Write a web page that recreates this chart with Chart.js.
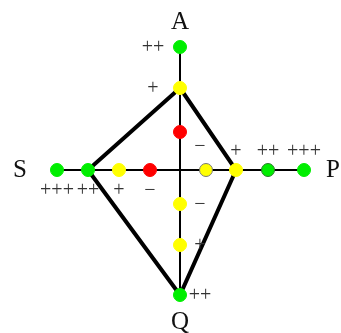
<!DOCTYPE html>
<html>
<head>
<meta charset="utf-8">
<script src="https://cdn.jsdelivr.net/npm/chart.js@4"></script>
<style>
  body { margin: 0; background: #fff; }
  #wrap { width: 341px; height: 333px; }
</style>
</head>
<body>
<div id="wrap"><canvas id="chart"></canvas></div>
<script>
// distance of each mark from the centre, along its arm
const aDist = [38, 82, 123];
const aGrades = ['', '+', '++'];
const aColors = ['red', 'yellow', 'green'];

const pDist = [26, 56, 88, 124];
const pGrades = ['\u2212', '+', '++', '+++'];
const pColors = ['yellow', 'yellow', 'green', 'green'];

const qDist = [34, 75, 125];
const qGrades = ['\u2212', '+', '++'];
const qColors = ['yellow', 'yellow', 'green'];

const sDist = [30, 61, 92, 123];
const sGrades = ['\u2212', '+', '++', '+++'];
const sColors = ['red', 'yellow', 'green', 'green'];

const armNames = ['A', 'P', 'Q', 'S'];
// which mark on each arm is a corner of the profile
const cornerIndex = [1, 1, 2, 2];

const palette = { green: '#00ee00', yellow: '#ffff00', red: '#ff0000' };

const arms = [
  { dist: aDist, grades: aGrades, colors: aColors, dir: [0, 1], lab: [-27, 1], name: [0, 25] },
  { dist: pDist, grades: pGrades, colors: pColors, dir: [1, 0], lab: [0, -18], name: [29, 0] },
  { dist: qDist, grades: qGrades, colors: qColors, dir: [0, -1], lab: [20, 1], name: [0, 27] },
  { dist: sDist, grades: sGrades, colors: sColors, dir: [-1, 0], lab: [0, 21], name: [37, 0] }
];

const pos = (arm, d) => ({ x: arm.dir[0] * d, y: arm.dir[1] * d });

const marks = [];
const markColors = [];
const markBorders = [];
arms.forEach(arm => {
  arm.dist.forEach((d, i) => {
    marks.push(pos(arm, d));
    markColors.push(palette[arm.colors[i]]);
    markBorders.push(palette[arm.colors[i]]);
  });
});
// two dots in the picture show a faint dark rim
markBorders[3] = '#777';
markBorders[5] = '#2a7a2a';

const vertical = [pos(arms[0], Math.max(...aDist)), pos(arms[2], Math.max(...qDist))];
const horizontal = [pos(arms[3], Math.max(...sDist)), pos(arms[1], Math.max(...pDist))];
const profile = arms.map((arm, i) => pos(arm, arm.dist[cornerIndex[i]]));
profile.push(profile[0]);

const labelPlugin = {
  id: 'labels',
  afterDatasetsDraw(chart) {
    const c = chart.ctx;
    const xs = chart.scales.x, ys = chart.scales.y;
    c.save();
    c.textAlign = 'center';
    c.textBaseline = 'middle';
    arms.forEach((arm, k) => {
      c.font = '20px "Liberation Serif", serif';
      c.fillStyle = '#333';
      arm.dist.forEach((d, i) => {
        if (!arm.grades[i]) return;
        const p = pos(arm, d);
        let dx = arm.lab[0], dy = arm.lab[1];
        // the first P grade sits a little higher and further left
        if (k === 1 && i === 0) { dx -= 6; dy -= 5; }
        c.fillText(arm.grades[i], xs.getPixelForValue(p.x) + dx, ys.getPixelForValue(p.y) + dy);
      });
      const end = pos(arm, Math.max(...arm.dist));
      const ex = xs.getPixelForValue(end.x) + arm.dir[0] * arm.name[0];
      const ey = ys.getPixelForValue(end.y) - arm.dir[1] * arm.name[1];
      c.font = '25px "Liberation Serif", serif';
      c.fillStyle = '#111';
      c.fillText(armNames[k], ex, ey);
    });
    c.restore();
  }
};

new Chart(document.getElementById('chart'), {
  type: 'scatter',
  data: {
    datasets: [
      { data: marks, pointRadius: 6.5, pointHoverRadius: 6.5, pointBackgroundColor: markColors, pointBorderColor: markBorders, pointBorderWidth: 1, order: 0 },
      { data: profile, showLine: true, borderColor: '#000', borderWidth: 4, pointRadius: 0, order: 1 },
      { data: vertical, showLine: true, borderColor: '#000', borderWidth: 2, pointRadius: 0, order: 2 },
      { data: horizontal, showLine: true, borderColor: '#000', borderWidth: 2, pointRadius: 0, order: 2 }
    ]
  },
  options: {
    responsive: true,
    maintainAspectRatio: false,
    animation: false,
    layout: { padding: 0, autoPadding: false },
    plugins: { legend: { display: false }, tooltip: { enabled: false } },
    scales: {
      x: { type: 'linear', min: -180, max: 161, display: false },
      y: { type: 'linear', min: -163, max: 170, display: false }
    }
  },
  plugins: [labelPlugin]
});
</script>
</body>
</html>
